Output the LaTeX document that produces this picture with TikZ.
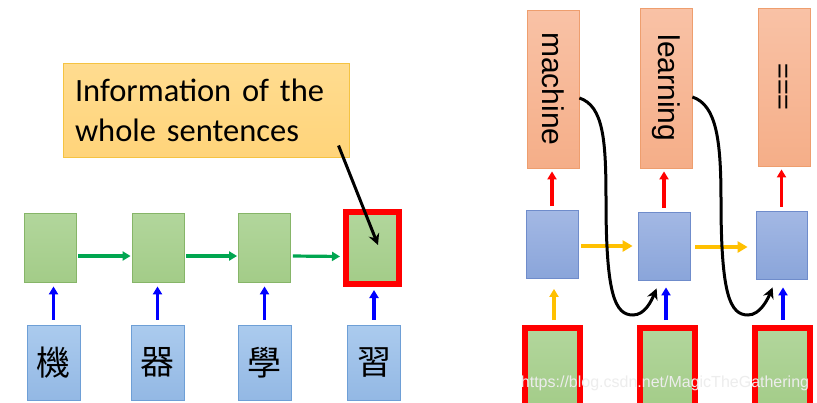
\documentclass[tikz,border=0pt]{standalone}
\usepackage{fontspec}
\setmainfont{Liberation Sans}
\newfontfamily\calibri{Carlito}
\newfontfamily\cjk{Noto Sans CJK TC}
\usetikzlibrary{arrows.meta}
\definecolor{grnT}{HTML}{B2D69C}
\definecolor{grnB}{HTML}{A3CC88}
\definecolor{grnD}{HTML}{86B568}
\definecolor{lbT}{HTML}{ABCBEE}
\definecolor{lbB}{HTML}{93B8E4}
\definecolor{lbD}{HTML}{6E9FD6}
\definecolor{rbT}{HTML}{A3B8E4}
\definecolor{rbB}{HTML}{8AA5DA}
\definecolor{rbD}{HTML}{6F8CCB}
\definecolor{orT}{HTML}{F9C2A6}
\definecolor{orB}{HTML}{F5AE88}
\definecolor{orD}{HTML}{EE9E6E}
\definecolor{ylT}{HTML}{FFDC90}
\definecolor{ylB}{HTML}{FFD47A}
\definecolor{ylD}{HTML}{F5C342}
\definecolor{grA}{HTML}{00A650}
\definecolor{gdA}{HTML}{FFC000}
\tikzset{
  boxbase/.style={inner sep=0pt, line width=0.8pt},
  gbox/.style={boxbase, draw=grnD, top color=grnT, bottom color=grnB, minimum width=52pt, minimum height=69pt},
  rgbox/.style={boxbase, draw=red, line width=6pt, top color=grnT, bottom color=grnB},
  lbbox/.style={boxbase, draw=lbD, top color=lbT, bottom color=lbB, minimum width=53pt, minimum height=75pt, font=\cjk\fontsize{34}{40}\selectfont},
  rbbox/.style={boxbase, draw=rbD, top color=rbT, bottom color=rbB, minimum width=52pt, minimum height=68pt},
  obox/.style={boxbase, draw=orD, top color=orT, bottom color=orB, minimum width=52pt, minimum height=158pt},
  vtext/.style={rotate=-90, inner sep=0pt, font=\fontsize{30}{30}\selectfont},
  ybox/.style={boxbase, draw=ylD, line width=1pt, top color=ylT, bottom color=ylB, minimum width=286pt, minimum height=94pt, inner xsep=12pt, text width=262pt, align=left, font=\calibri\fontsize{32.5}{40}\selectfont},
  garrow/.style={draw=grA, line width=3.2pt, -{Triangle[length=8pt,width=9pt]}},
  barrow/.style={draw=blue, line width=3.2pt, -{Triangle[length=8pt,width=9pt]}},
  rarrow/.style={draw=red, line width=3.2pt, -{Triangle[length=8pt,width=9pt]}},
  oarrow/.style={draw=gdA, line width=4.2pt, -{Triangle[length=10pt,width=11pt]}},
  karrow/.style={draw=black, line width=3pt, -{Stealth[length=11pt,width=11pt]}},
}
\begin{document}
\begin{tikzpicture}[x=1pt,y=-1pt]
\useasboundingbox (0,0) rectangle (817,402);
\clip (0,0) rectangle (817,402);
\fill[white] (0,0) rectangle (817,402);

% ---------- left part ----------
\node[gbox] (g1) at (50,247.5) {};
\node[gbox] (g2) at (158,247.5) {};
\node[gbox] (g3) at (264.5,247.5) {};
\node[rgbox, minimum width=53pt, minimum height=72pt] (g4) at (372.5,248) {};

\node[lbbox] (c1) at (53.5,362.5) {機};
\node[lbbox] (c2) at (157.5,362.5) {器};
\node[lbbox] (c3) at (264.5,362.5) {學};
\node[lbbox] (c4) at (374,362.5) {習};

\foreach \i in {1,2,3}{
  \draw[barrow, shorten <=5pt, shorten >=4pt] (c\i.north) -- (c\i.north |- g\i.south);
}
\draw[barrow, shorten <=5pt, shorten >=3pt] (c4.north) -- (c4.north |- g4.south);

\draw[garrow, shorten <=2pt, shorten >=1pt] ([yshift=-8.5pt]g1.east) -- ([yshift=-8.5pt]g2.west);
\draw[garrow, shorten <=2pt, shorten >=1pt] ([yshift=-8.5pt]g2.east) -- ([yshift=-8.5pt]g3.west);
\draw[garrow, shorten <=2pt, shorten >=3pt] ([yshift=-8.5pt]g3.east) -- ([yshift=-8.5pt]g4.west);

\node[ybox] (info) at (206,110) {Information of the\\whole sentences};
\draw[karrow] ([xshift=-11pt,yshift=12pt]info.south east) -- ([xshift=5.5pt,yshift=3pt]g4.center);

% ---------- right part ----------
\node[obox] (o1) at (553,89) {};
\node[obox, minimum height=160pt] (o2) at (666,88) {};
\node[obox] (o3) at (784,87) {};
\node[vtext] (t1) at (o1.center) {machine};
\node[vtext] (t2) at (o2.center) {learning};
\node[vtext, font=\fontsize{27}{27}\selectfont] (t3) at ([xshift=-3pt]o3.center) {===};

\node[rbbox] (r1) at (552,244.5) {};
\node[rbbox] (r2) at (664,246) {};
\node[rbbox, minimum width=51pt] (r3) at (781.5,245) {};

\node[rgbox, minimum width=55pt, minimum height=82pt] (b1) at (552.5,369) {};
\node[rgbox, minimum width=55pt, minimum height=82pt] (b2) at (667.5,369) {};
\node[rgbox, minimum width=55pt, minimum height=82pt] (b3) at (782,369) {};

\foreach \i in {1,2,3}{
  \draw[rarrow, shorten <=4pt, shorten >=3pt] (r\i.north) -- (r\i.north |- o\i.south);
}

\draw[oarrow, shorten <=3pt, shorten >=5pt] ([yshift=-1.5pt]r1.east) -- ([yshift=-1.5pt]r1.east -| r2.west);
\draw[oarrow, shorten <=5pt, shorten >=8pt] ([yshift=-1pt]r2.east) -- ([yshift=-1pt]r2.east -| r3.west);

\draw[oarrow, line width=3.2pt, -{Triangle[length=8pt,width=9pt]}, shorten <=5pt, shorten >=10pt] ([xshift=1.5pt]b1.north) -- ([xshift=1.5pt]b1.north |- r1.south);
\draw[barrow, shorten <=5pt, shorten >=7pt] ([xshift=-1.5pt]b2.north) -- ([xshift=-1.5pt]b2.north |- r2.south);
\draw[barrow, shorten <=5pt, shorten >=8pt] ([xshift=1pt]b3.north) -- ([xshift=1pt]b3.north |- r3.south);

\coordinate (k1a) at (606,200);
\coordinate (k1b) at (633,315);
\coordinate (k2a) at (721,200);
\coordinate (k2b) at (748,315);
\draw[karrow] ([yshift=-9pt]o1.east) .. controls +(24,8) and +(0,-60) .. (k1a)
  .. controls +(0,95) and +(-18,0) .. (k1b)
  .. controls +(12,0) and +(-5,12) .. ([xshift=19pt,yshift=-8pt]r2.south west);
\draw[karrow] ([yshift=-9pt]o2.east) .. controls +(24,8) and +(0,-60) .. (k2a)
  .. controls +(0,95) and +(-18,0) .. (k2b)
  .. controls +(12,0) and +(-5,12) .. ([xshift=17pt,yshift=-8pt]r3.south west);

\node[text=white!93!black, font=\fontsize{16}{16}\selectfont] (wm) at (665,383) {https://blog.csdn.net/MagicTheGathering};
\end{tikzpicture}
\end{document}
